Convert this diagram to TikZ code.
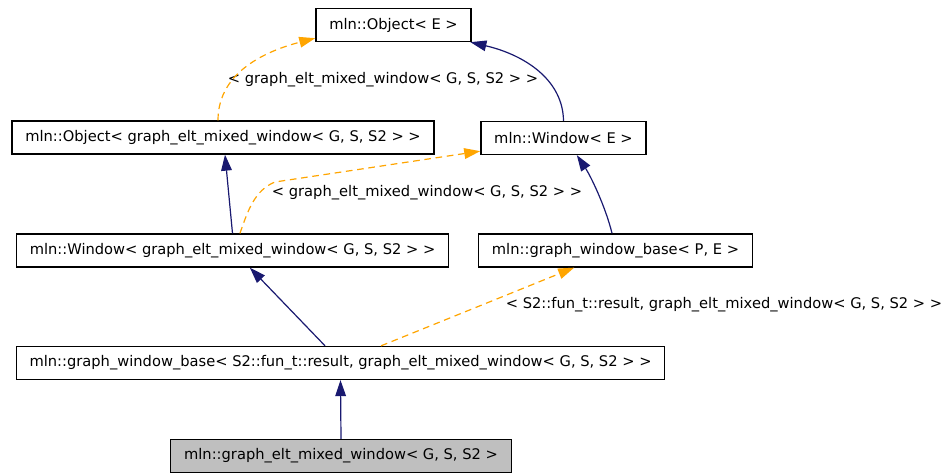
\documentclass[tikz,border=0pt]{standalone}
\usepackage{fontspec}
\setmainfont{DejaVu Sans}
\usetikzlibrary{arrows.meta}
\definecolor{inhblue}{RGB}{25,25,112}
\definecolor{tplorange}{RGB}{255,165,0}
\begin{document}
\begin{tikzpicture}[x=0.75pt,y=-0.75pt,font=\fontsize{11}{13}\selectfont,
  cls/.style={draw,line width=1pt,fill=white,inner xsep=10pt,inner ysep=0pt,minimum height=24.75pt},
  inh/.style={inhblue,line width=0.9pt,-{Triangle[length=12pt,width=8pt]}},
  tpl/.style={tplorange,line width=0.9pt,dash pattern=on 5pt off 3.5pt,-{Triangle[length=12pt,width=8pt]}},
  tlabel/.style={inner sep=0pt}]
  \useasboundingbox (0,0) rectangle (947,473);
  % classes
  \node[cls] (obje) at (393.5,25) {mln::Object< E >};
  \node[cls] (objg) at (223,137.5) {mln::Object< graph\_elt\_mixed\_window< G, S, S2 > >};
  \node[cls] (wine) at (563.5,138) {mln::Window< E >};
  \node[cls] (wing) at (232.5,250.5) {mln::Window< graph\_elt\_mixed\_window< G, S, S2 > >};
  \node[cls] (gwbpe) at (615.5,250.5) {mln::graph\_window\_base< P, E >};
  \node[cls] (gwbs) at (340.5,363) {mln::graph\_window\_base< S2::fun\_t::result, graph\_elt\_mixed\_window< G, S, S2 > >};
  \node[cls,fill=black!25] (gemw) at (341,456) {mln::graph\_elt\_mixed\_window< G, S, S2 >};
  % template labels
  \node[tlabel] (lblobj) at (383,80) {< graph\_elt\_mixed\_window< G, S, S2 > >};
  \node[tlabel] (lblwin) at (427,193) {< graph\_elt\_mixed\_window< G, S, S2 > >};
  \node[tlabel] (lblgwb) at (724,305) {< S2::fun\_t::result, graph\_elt\_mixed\_window< G, S, S2 > >};
  % inheritance
  \draw[inh] (gemw.north) -- (gwbs.south);
  \draw[inh] ([xshift=-11.6pt]gwbs.north) -- ([xshift=13pt]wing.south);
  \draw[inh] (wing.north) -- ([xshift=1.5pt]objg.south);
  \draw[inh] ([xshift=-2.6pt]gwbpe.north) .. controls (605,205) and (590,175) .. ([xshift=10pt]wine.south);
  \draw[inh] (wine.north) .. controls (563,80) and (525,55) .. ([xshift=-1pt]obje.south east);
  % template instances
  \draw[tpl] ([xshift=-3.75pt]objg.north) .. controls (218,70) and (270,50) .. ([yshift=3pt]obje.south west);
  \draw[tpl] ([xshift=5.6pt]wing.north) .. controls (248,210) and (255,190) .. (275,182) -- ([yshift=3pt]wine.south west);
  \draw[tpl] ([xshift=30.4pt]gwbs.north) -- ([xshift=-31pt]gwbpe.south);
\end{tikzpicture}
\end{document}
